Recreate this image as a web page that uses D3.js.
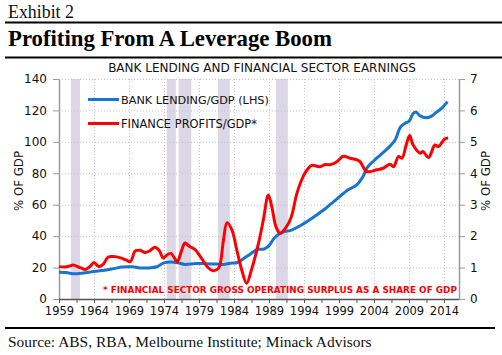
<!DOCTYPE html>
<html><head><meta charset="utf-8">
<script src="https://cdn.jsdelivr.net/npm/d3@7"></script>
<style>body{margin:0;background:#fff} svg{display:block}</style>
</head><body>
<script>
// ---------- DATA ----------
const exhibitLabel = "Exhibit 2";
const headline = "Profiting From A Leverage Boom";
const chartTitle = "BANK LENDING AND FINANCIAL SECTOR EARNINGS";
const seriesNames = ["BANK LENDING/GDP (LHS)", "FINANCE PROFITS/GDP*"];
const footnote = "* FINANCIAL SECTOR GROSS OPERATING SURPLUS AS A SHARE OF GDP";
const sourceText = "Source: ABS, RBA, Melbourne Institute; Minack Advisors";
const axisTitle = "% OF GDP";

const lendingYears = [1959.0,1960.0,1961.3,1962.5,1964.0,1965.5,1967.0,1968.0,1969.5,1970.5,1972.0,1973.0,1974.0,1975.0,1976.0,1977.0,1978.5,1980.0,1981.5,1982.5,1983.5,1984.5,1985.3,1986.3,1987.3,1988.3,1989.0,1989.8,1990.5,1991.3,1992.0,1993.0,1994.4,1995.5,1996.8,1998.0,1999.1,2000.3,2001.5,2002.5,2003.0,2004.0,2004.9,2006.0,2007.0,2007.8,2008.5,2009.0,2009.6,2010.0,2010.6,2011.5,2012.3,2012.9,2013.7,2014.5];
const lendingValues = [17.0,16.8,16.0,16.6,17.5,18.3,19.5,20.3,20.5,19.8,19.8,20.5,23.0,23.5,23.0,22.0,22.6,22.5,22.2,22.0,22.8,23.2,25.5,28.5,31.5,31.8,34.0,39.0,41.5,43.0,43.5,45.5,49.2,52.5,56.6,61.0,65.1,69.5,72.5,78.5,83.5,88.0,91.6,96.0,101.0,109.5,112.0,113.0,118.0,119.0,116.5,115.4,116.5,118.8,121.5,125.6];

const profitYears = [1959.0,1959.8,1960.5,1961.0,1962.0,1962.8,1963.5,1964.0,1964.7,1965.3,1966.0,1966.8,1967.8,1968.5,1969.2,1969.9,1970.6,1971.3,1972.0,1972.7,1973.3,1973.9,1974.4,1975.0,1975.5,1975.9,1976.5,1977.0,1977.6,1978.4,1979.2,1980.1,1981.0,1981.8,1982.5,1983.0,1983.7,1984.4,1985.1,1985.8,1986.5,1987.5,1988.2,1988.9,1989.4,1990.0,1990.6,1991.5,1992.2,1993.0,1994.0,1994.6,1995.1,1996.3,1997.0,1997.7,1998.7,1999.6,2000.6,2001.5,2002.0,2002.6,2003.0,2004.4,2005.3,2006.3,2006.8,2007.5,2008.0,2008.6,2009.1,2009.6,2010.6,2011.0,2011.8,2012.7,2013.2,2014.1,2014.6];
const profitValues = [1.03,1.02,1.05,1.08,1.00,0.94,1.05,1.16,1.03,1.10,1.33,1.35,1.31,1.25,1.19,1.53,1.55,1.48,1.54,1.65,1.55,1.30,1.40,1.45,1.30,1.18,1.53,1.78,1.68,1.58,1.35,1.05,0.90,0.98,1.88,2.43,2.20,1.56,0.93,0.50,0.93,1.77,2.52,3.31,2.94,2.30,2.09,2.30,2.62,3.37,3.95,4.15,4.25,4.21,4.28,4.27,4.37,4.54,4.48,4.43,4.37,4.15,4.05,4.11,4.16,4.29,4.21,4.53,4.48,4.90,5.20,4.90,4.64,4.69,4.50,4.90,4.85,5.09,5.12];

const recessionStarts = [1960.7,1974.4,1976.1,1981.7,1990.0];
const recessionEnds   = [1962.0,1975.7,1977.9,1983.4,1991.7];

const leftTicks = [0,20,40,60,80,100,120,140];
const rightTicks = [0,1,2,3,4,5,6,7];
const xLabelYears = [1959,1964,1969,1974,1979,1984,1989,1994,1999,2004,2009,2014];
const xTickYears = d3.range(1959, 2015, 2.5);

// ---------- LAYOUT ----------
const W = 502, H = 355;
const L = 59, R = 459, T = 79, B = 299;
const sans = "'DejaVu Sans', Verdana, sans-serif";
const serif = "'Liberation Serif', 'Times New Roman', serif";

const svg = d3.select("body").append("svg").attr("width", W).attr("height", H);

function fit(sel, target) {
  const n = sel.node();
  const w = n.getComputedTextLength();
  const fs = parseFloat(sel.attr("font-size"));
  sel.attr("font-size", (fs * target / w).toFixed(2));
  return sel;
}

const x = d3.scaleLinear().domain([1959, 2016.15]).range([L, R]);
const yL = d3.scaleLinear().domain([0, 140]).range([B, T]);
const yR = d3.scaleLinear().domain([0, 7]).range([B, T]);

// Header
fit(svg.append("text").attr("x", 8).attr("y", 18).attr("font-family", serif)
  .attr("font-size", 17).attr("fill", "#111").text(exhibitLabel), 66);
svg.append("line").attr("x1", 5).attr("x2", 502).attr("y1", 22.5).attr("y2", 22.5)
  .attr("stroke", "#000").attr("stroke-width", 2);
fit(svg.append("text").attr("x", 8).attr("y", 45.5).attr("font-family", serif)
  .attr("font-weight", "bold").attr("font-size", 23).attr("fill", "#000").text(headline), 324);
svg.append("line").attr("x1", 5).attr("x2", 502).attr("y1", 57.5).attr("y2", 57.5)
  .attr("stroke", "#000").attr("stroke-width", 2);

// chart title
fit(svg.append("text").attr("x", 262).attr("y", 72).attr("text-anchor", "middle")
  .attr("font-family", sans).attr("font-size", 11).attr("fill", "#111").text(chartTitle), 308);

// recession bars
svg.append("g").selectAll("rect").data(recessionStarts).join("rect")
  .attr("x", (d) => x(d)).attr("width", (d, i) => x(recessionEnds[i]) - x(d))
  .attr("y", T).attr("height", B - T).attr("fill", "#dcd7e6");

// grid
const grid = svg.append("g").attr("stroke", "#c4bdd6").attr("stroke-width", 1).attr("stroke-dasharray", "1,2");
grid.selectAll("line.h").data(leftTicks.filter(d => d > 0)).join("line").attr("class", "h")
  .attr("x1", L).attr("x2", R).attr("y1", d => yL(d) + 0.5).attr("y2", d => yL(d) + 0.5);
grid.selectAll("line.v").data(xLabelYears.filter(d => d > 1959)).join("line").attr("class", "v")
  .attr("x1", d => x(d) + 0.5).attr("x2", d => x(d) + 0.5).attr("y1", T).attr("y2", B);

// axes
function styleAxis(g, col) {
  g.selectAll("path").attr("stroke", col);
  g.selectAll("line").attr("stroke", col);
  g.selectAll("text").attr("fill", "#111").attr("font-family", sans);
}
const gL = svg.append("g").attr("transform", `translate(${L},0)`)
  .call(d3.axisLeft(yL).tickValues(leftTicks).tickFormat(d3.format("d")).tickSize(6).tickSizeOuter(0).tickPadding(6));
styleAxis(gL, "#9a9a9a"); gL.selectAll("text").attr("font-size", 12);
gL.select(".domain").attr("stroke-width", 1.5);

const gR = svg.append("g").attr("transform", `translate(${R},0)`)
  .call(d3.axisRight(yR).tickValues(rightTicks).tickFormat(d3.format("d")).tickSize(6).tickSizeOuter(0).tickPadding(5));
styleAxis(gR, "#9a9a9a"); gR.selectAll("text").attr("font-size", 12);
gR.select(".domain").attr("stroke-width", 1.5);

const gB = svg.append("g").attr("transform", `translate(0,${B})`)
  .call(d3.axisBottom(x).tickValues(xTickYears).tickSize(4).tickSizeOuter(0).tickPadding(4)
    .tickFormat(d => xLabelYears.includes(d) ? String(d) : ""));
styleAxis(gB, "#555"); gB.selectAll("text").attr("font-size", 11.5);
gB.select(".domain").attr("d", `M${L},0.5H${R}`).attr("stroke-width", 1.5);

// axis titles
fit(svg.append("text").attr("transform", "translate(23,181) rotate(-90)").attr("text-anchor", "middle")
  .attr("font-family", sans).attr("font-size", 12).attr("fill", "#111").text(axisTitle), 60);
fit(svg.append("text").attr("transform", "translate(490,181) rotate(-90)").attr("text-anchor", "middle")
  .attr("font-family", sans).attr("font-size", 12).attr("fill", "#111").text(axisTitle), 60);

// lines
const lendingData = lendingYears.map((yr, i) => [yr, lendingValues[i]]);
const profitData = profitYears.map((yr, i) => [yr, profitValues[i]]);
const lineL = d3.line().x(d => x(d[0])).y(d => yL(d[1])).curve(d3.curveCatmullRom.alpha(0.5));
const lineR = d3.line().x(d => x(d[0])).y(d => yR(d[1])).curve(d3.curveCatmullRom.alpha(0.5));
svg.append("path").datum(lendingData).attr("d", lineL).attr("fill", "none")
  .attr("stroke", "#1874cd").attr("stroke-width", 3).attr("stroke-linejoin", "round");
svg.append("path").datum(profitData).attr("d", lineR).attr("fill", "none")
  .attr("stroke", "#ff0000").attr("stroke-width", 3).attr("stroke-linejoin", "round");

// legend
const legColors = ["#1874cd", "#ff0000"];
const legY = [99.5, 123.5];
const legW = [148, 136];
seriesNames.forEach((nm, i) => {
  svg.append("line").attr("x1", 88).attr("x2", 119).attr("y1", legY[i]).attr("y2", legY[i])
    .attr("stroke", legColors[i]).attr("stroke-width", 3);
  fit(svg.append("text").attr("x", 121).attr("y", legY[i] + 4).attr("font-family", sans)
    .attr("font-size", 11).attr("fill", "#111").text(nm), legW[i]);
});

// footnote
fit(svg.append("text").attr("x", 103).attr("y", 293).attr("font-family", sans)
  .attr("font-weight", "bold").attr("font-size", 10).attr("fill", "#ff0000").text(footnote), 354);

// source
svg.append("line").attr("x1", 5).attr("x2", 495).attr("y1", 328).attr("y2", 328)
  .attr("stroke", "#000").attr("stroke-width", 2);
fit(svg.append("text").attr("x", 8).attr("y", 347).attr("font-family", serif)
  .attr("font-size", 16).attr("fill", "#111").text(sourceText), 364);
</script>
</body></html>
